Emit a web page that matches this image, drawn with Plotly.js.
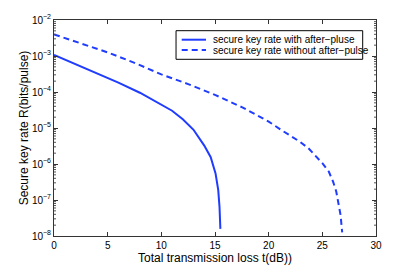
<!DOCTYPE html>
<html><head><meta charset="utf-8">
<script src="https://cdn.plot.ly/plotly-3.0.1.min.js"></script>
<style>html,body{margin:0;padding:0;background:#fff}#chart{width:415px;height:266px}</style>
</head><body><div id="chart"></div>
<script>
const withAfterX = [0, 2, 4, 6, 8, 9, 10, 11, 12, 13, 14, 14.6, 15.05, 15.3, 15.42, 15.5];
const withAfterY = [1.07e-3, 6.03e-4, 3.39e-4, 1.82e-4, 9.55e-5, 6.61e-5, 4.57e-5, 3.02e-5, 1.74e-5, 8.91e-6, 3.24e-6, 1.55e-6, 5.5e-7, 1.91e-7, 6.46e-8, 1.58e-8];
const withoutAfterX = [0, 2.5, 5, 7.5, 10, 12.5, 15, 17.5, 20, 21.2, 22.2, 22.9, 23.7, 24.3, 25, 25.6, 26, 26.3, 26.5, 26.7, 26.85];
const withoutAfterY = [3.98e-3, 2.29e-3, 1.26e-3, 6.46e-4, 3.09e-4, 1.66e-4, 8.32e-5, 3.80e-5, 1.51e-5, 8.71e-6, 5.75e-6, 4.17e-6, 2.75e-6, 1.78e-6, 1.05e-6, 6.17e-7, 3.24e-7, 1.70e-7, 8.13e-8, 3.80e-8, 1.26e-8];
const seriesNames = ['secure key rate with after\u2212pluse', 'secure key rate without after\u2212pulse'];
const xTicks = [0, 5, 10, 15, 20, 25, 30];
const yTickExps = [-8, -7, -6, -5, -4, -3, -2];
const xTitle = 'Total transmission loss t(dB))';
const yTitle = 'Secure key rate R(bits/pulse)';

const blue = '#1f3cff';
const dashes = ['solid', '6px,4px'];
const traces = [
  {x: withAfterX, y: withAfterY, name: seriesNames[0], mode: 'lines', line: {color: blue, width: 2, dash: dashes[0]}},
  {x: withoutAfterX, y: withoutAfterY, name: seriesNames[1], mode: 'lines', line: {color: blue, width: 2, dash: dashes[1]}}
];
const font = {family: 'Liberation Sans, Arial, sans-serif', color: '#000'};

const shapes = [];
// minor ticks of the log axis (2..9 per decade) on left and right frame edges
const tickW = 2 / 322;
for (let e = -8; e < -2; e++) {
  for (let m = 2; m <= 9; m++) {
    const p = (Math.log10(m) + e + 8) / 6;
    shapes.push({type: 'line', xref: 'paper', yref: 'paper', x0: 0, x1: tickW, y0: p, y1: p, line: {color: '#555', width: 1}});
    shapes.push({type: 'line', xref: 'paper', yref: 'paper', x0: 1 - tickW, x1: 1, y0: p, y1: p, line: {color: '#555', width: 1}});
  }
}
// custom legend (box, sample lines, labels) in paper coordinates
const legRows = [0.9088, 0.861];
shapes.push({type: 'rect', xref: 'paper', yref: 'paper', x0: 0.379, x1: 0.9587, y0: 0.818, y1: 0.9505,
   line: {color: '#000', width: 1}, fillcolor: '#fff', layer: 'above'});
const annotations = [];
seriesNames.forEach((n, i) => {
  shapes.push({type: 'line', xref: 'paper', yref: 'paper', x0: 0.3966, x1: 0.472, y0: legRows[i], y1: legRows[i],
               line: {color: blue, width: 2, dash: dashes[i]}, layer: 'above'});
  annotations.push({xref: 'paper', yref: 'paper', x: 0.4866, y: legRows[i], xanchor: 'left', yanchor: 'middle',
                    text: n, showarrow: false, font: Object.assign({size: 10}, font)});
});

const layout = {
  width: 415, height: 266,
  margin: {l: 54, r: 39, t: 20, b: 30, pad: 0},
  paper_bgcolor: '#fff', plot_bgcolor: '#fff',
  font: Object.assign({size: 10}, font),
  showlegend: false,
  shapes: shapes, annotations: annotations,
  xaxis: {range: [0, 30], tickvals: xTicks, ticktext: xTicks.map(String), ticks: 'inside', ticklen: 4,
          tickcolor: '#333', showline: true, linecolor: '#333', linewidth: 1, mirror: 'ticks',
          showgrid: false, zeroline: false, tickfont: Object.assign({size: 10}, font),
          title: {text: xTitle, font: Object.assign({size: 12}, font), standoff: 2}, automargin: false},
  yaxis: {type: 'log', range: [-8, -2], tickmode: 'array',
          tickvals: yTickExps.map(e => Math.pow(10, e)),
          ticktext: yTickExps.map(e => '10<sup>\u2212' + (-e) + '</sup>'),
          ticks: 'inside', ticklen: 4,
          tickcolor: '#333', showline: true, linecolor: '#333', linewidth: 1, mirror: 'ticks',
          showgrid: false, zeroline: false, tickfont: Object.assign({size: 10}, font),
          title: {text: yTitle, font: Object.assign({size: 12}, font), standoff: 0}, automargin: false}
};
Plotly.newPlot('chart', traces, layout, {staticPlot: true, displayModeBar: false});
</script></body></html>
